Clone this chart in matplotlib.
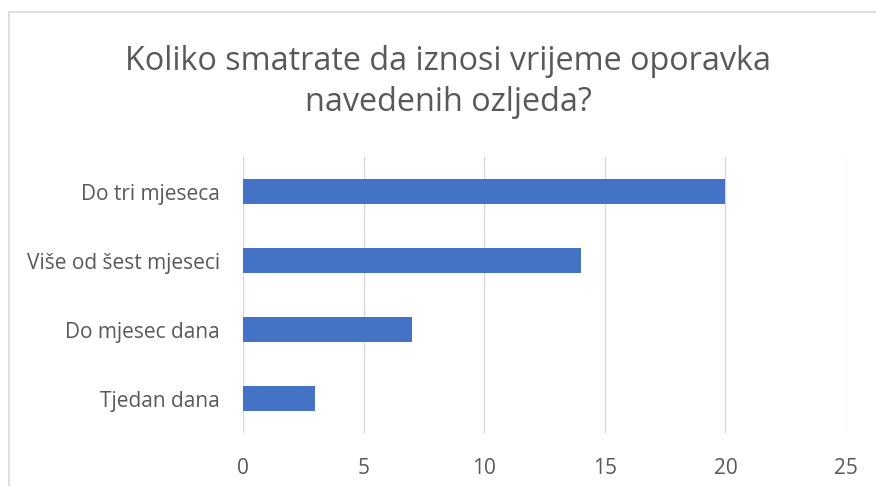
import matplotlib
matplotlib.use("Agg")
import matplotlib.pyplot as plt
from matplotlib.patches import Rectangle

categories = ["Tjedan dana", "Do mjesec dana", "Više od šest mjeseci", "Do tri mjeseca"]
values = [3, 7, 14, 20]
xticks = [0, 5, 10, 15, 20, 25]
title = "Koliko smatrate da iznosi vrijeme oporavka\nnavedenih ozljeda?"

plt.rcParams['font.family'] = ['Open Sans', 'DejaVu Sans']
W, H = 876, 486
fig = plt.figure(figsize=(W/100, H/100), dpi=100)
ax = fig.add_axes([243/W, 1-433/H, (846-243)/W, (433-157)/H])

ax.barh(range(len(categories)), values, height=0.35, color="#4472C4", zorder=3)
ax.set_yticks(range(len(categories)))
ax.set_yticklabels(categories, fontsize=15, color="#595959")
ax.set_xlim(0, 25)
ax.set_ylim(-0.5, len(categories)-0.5)
ax.set_xticks(xticks)
ax.set_xticklabels([str(t) for t in xticks], fontsize=15, color="#595959")
ax.grid(axis='x', color="#D9D9D9", linewidth=1, zorder=0)
for s in ax.spines.values():
    s.set_visible(False)
ax.tick_params(axis='both', length=0)
ax.tick_params(axis='x', pad=18)
ax.tick_params(axis='y', pad=16.5)

fig.text(448/W, 1-82/H, title, ha='center', va='center', fontsize=23.3,
         color="#595959", linespacing=1.3)

fig.patches.append(Rectangle((9/W, -0.1), 1.2, 1-12/H+0.1, transform=fig.transFigure,
                             fill=False, edgecolor="#D9D9D9", linewidth=1.2))

fig.savefig("out.png", dpi=100)
